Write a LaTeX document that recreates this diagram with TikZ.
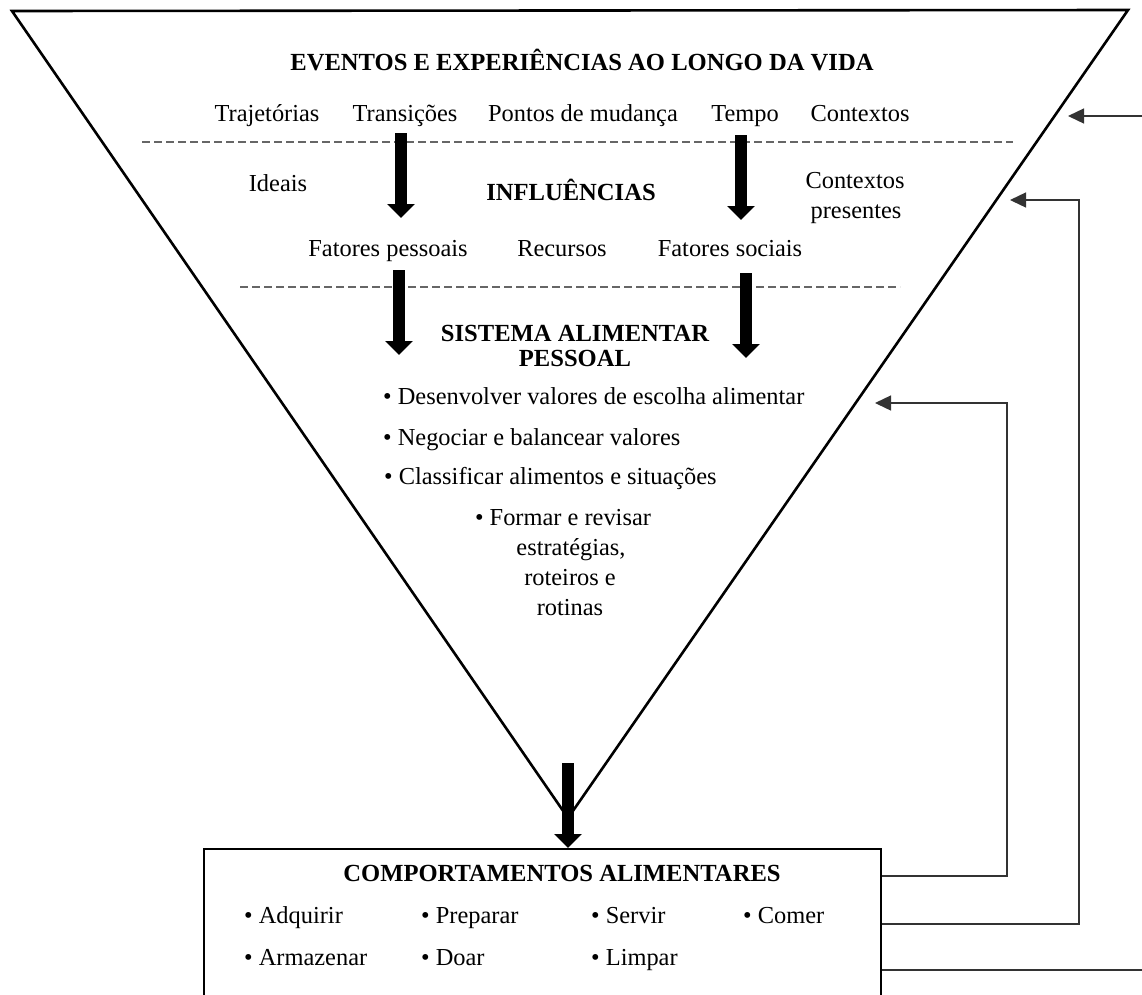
\documentclass[tikz,border=0pt]{standalone}
\usepackage{fontspec}
\setmainfont{Liberation Serif}
\usetikzlibrary{arrows.meta}
\begin{document}
\begin{tikzpicture}[x=1pt,y=-1pt,
  txt/.style={font=\fontsize{24.4}{29}\selectfont, inner sep=0pt, anchor=base},
  hd/.style={txt, font=\fontsize{24.6}{29}\selectfont\bfseries},
  item/.style={txt, anchor=base west},
  sep/.style={draw=black!60, line width=1.3pt, dash pattern=on 8pt off 4pt},
  bigarrow/.style={line width=12pt, -{Triangle[length=14pt,width=27pt]}},
  fb/.style={draw=black!80, line width=1.4pt, -{Triangle[length=16pt,width=15pt]}},
  fbline/.style={draw=black!80, line width=1.4pt}]

\useasboundingbox (0,0) rectangle (1142,994);
\clip (0,0) rectangle (1142,994);

% funnel
\coordinate (tl) at (12,11);
\coordinate (tr) at (1128,10);
\coordinate (bt) at (568,818);
\draw[line width=2.6pt, line join=miter] (tl) -- (tr) -- (bt) -- cycle;

% top level: life course events
\node[hd] (events) at (582,70) {EVENTOS E EXPERIÊNCIAS AO LONGO DA VIDA};
\node[txt] (traj) at (267,121) {Trajetórias};
\node[txt] (trans) at (405,121) {Transições};
\node[txt] (pontos) at (583,121) {Pontos de mudança};
\node[txt] (tempo) at (745,121) {Tempo};
\node[txt] (ctx) at (860,121) {Contextos};

\coordinate (d1a) at (142,142);
\coordinate (d1b) at (1013,142);
\draw[sep] (d1a) -- (d1b);

% influences
\node[txt] (ideais) at (278,191) {Ideais};
\node[hd] (infl) at (571,200) {INFLUÊNCIAS};
\node[txt] (ctxp1) at (855,188) {Contextos};
\node[txt] (ctxp2) at (856,218) {presentes};
\node[txt] (fpes) at (388,256) {Fatores pessoais};
\node[txt] (recur) at (562,256) {Recursos};
\node[txt] (fsoc) at (730,256) {Fatores sociais};

\coordinate (d2a) at (240,287);
\coordinate (d2b) at (900,287);
\draw[sep] (d2a) -- (d2b);

% personal food system
\node[hd] (sis1) at (575,341) {SISTEMA ALIMENTAR};
\node[hd] (sis2) at (575,366) {PESSOAL};
\node[item] (b1) at (383,404) {\textbullet\ Desenvolver valores de escolha alimentar};
\node[item] (b2) at (383,445) {\textbullet\ Negociar e balancear valores};
\node[item] (b3) at (384,484) {\textbullet\ Classificar alimentos e situações};
\node[txt] (b4a) at (563,525) {\textbullet\ Formar e revisar};
\node[txt] (b4b) at (571,555) {estratégias,};
\node[txt] (b4c) at (570,585) {roteiros e};
\node[txt] (b4d) at (570,615) {rotinas};

% thick downward arrows
\coordinate (a1s) at (401,133); \coordinate (a1e) at (401,218);
\coordinate (a2s) at (741,135); \coordinate (a2e) at (741,220);
\coordinate (a3s) at (399,270); \coordinate (a3e) at (399,355);
\coordinate (a4s) at (746,273); \coordinate (a4e) at (746,358);
\coordinate (a5s) at (568,763); \coordinate (a5e) at (568,848);
\draw[bigarrow] (a1s) -- (a1e);
\draw[bigarrow] (a2s) -- (a2e);
\draw[bigarrow] (a3s) -- (a3e);
\draw[bigarrow] (a4s) -- (a4e);

% eating behaviours box
\node[draw, line width=2.8pt, minimum width=677pt, minimum height=180pt, inner sep=0pt] (box) at (542.5,939) {};
\draw[bigarrow] (a5s) -- (a5e);
\node[hd] (comp) at (562,881) {COMPORTAMENTOS ALIMENTARES};
\node[item] (c1) at (244,923) {\textbullet\ Adquirir};
\node[item] (c2) at (421,923) {\textbullet\ Preparar};
\node[item] (c3) at (591,923) {\textbullet\ Servir};
\node[item] (c4) at (743,923) {\textbullet\ Comer};
\node[item] (c5) at (244,965) {\textbullet\ Armazenar};
\node[item] (c6) at (421,965) {\textbullet\ Doar};
\node[item] (c7) at (591,965) {\textbullet\ Limpar};

% feedback loops
\coordinate (f1s) at (box.east |- 0,876);
\coordinate (f1k) at (1007,876);
\coordinate (f1t) at (875,403);
\draw[fb] (f1s) -- (f1k) |- (f1t);

\coordinate (f2s) at (box.east |- 0,924);
\coordinate (f2k) at (1079,924);
\coordinate (f2t) at (1010,200);
\draw[fb] (f2s) -- (f2k) |- (f2t);

\coordinate (f3s) at (box.east |- 0,970);
\coordinate (f3e) at (1150,970);
\draw[fbline] (f3s) -- (f3e);
\coordinate (f4s) at (1150,116);
\coordinate (f4t) at (1068,116);
\draw[fb] (f4s) -- (f4t);
\end{tikzpicture}
\end{document}
